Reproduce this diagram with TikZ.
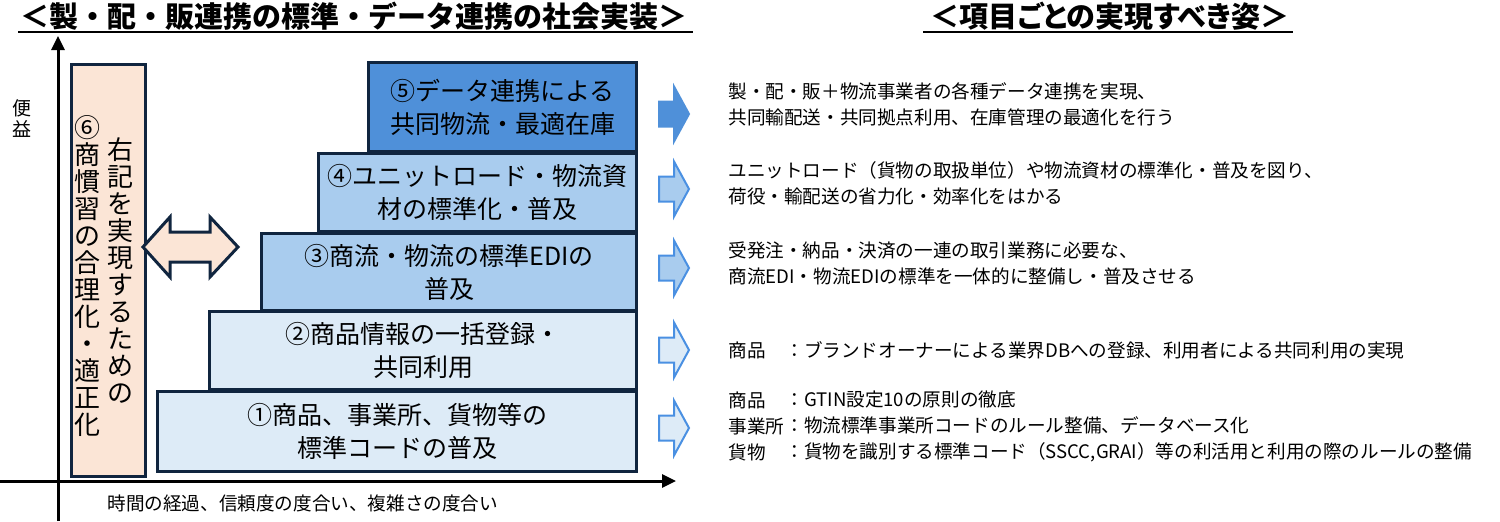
\documentclass[tikz,border=0pt]{standalone}
\usepackage{fontspec}
\setmainfont{Noto Sans CJK JP}
\newfontfamily\jpprop{Noto Sans CJK JP}[RawFeature=+palt]
\usetikzlibrary{arrows.meta}
\definecolor{navy}{HTML}{10253F}
\definecolor{dblue}{HTML}{4F90D9}
\definecolor{mblue}{HTML}{A9CCEE}
\definecolor{lblue}{HTML}{DDEBF7}
\definecolor{pink}{HTML}{FBE5D6}
\definecolor{ablue}{HTML}{4A90E2}
\tikzset{
  titletext/.style={font=\bfseries\fontsize{14.5}{15}\selectfont, inner sep=0},
  uline/.style={line width=1pt},
  axis/.style={line width=1.5pt, -{Triangle[length=7pt,width=6.5pt]}},
  stepbox/.style={draw=navy, line width=1.5pt, rectangle, anchor=north west, inner sep=0,
     align=center, font=\fontsize{12.5}{16.5}\selectfont},
  vcol/.style={align=center, inner sep=0, anchor=north, font=\fontsize{13}{13.5}\selectfont},
  desc/.style={align=left, inner sep=0, anchor=west, font=\fontsize{9.3}{13}\selectfont},
  barrow/.style={line width=1pt, line join=miter},
}
\newcommand\blockarrow[3]{%
  \draw[barrow, fill=#2, draw=#3] (659,#1-12.5) -- (674,#1-12.5) -- (674,#1-27.5) -- (689,#1)
     -- (674,#1+27.5) -- (674,#1+12.5) -- (659,#1+12.5) -- cycle;}
\begin{document}
\begin{tikzpicture}[x=0.5pt,y=-0.5pt]
\useasboundingbox (0,0) rectangle (1500,521);
% titles
\node[titletext] (t1) at (354,16) {＜製・配・販連携の標準・データ連携の社会実装＞};
\coordinate (u1a) at (18,32); \coordinate (u1b) at (693,32);
\draw[uline] (u1a) -- (u1b);
\node[titletext] (t2) at (1110,16) {\jpprop\bfseries ＜項目ごとの実現すべき姿＞};
\coordinate (u2a) at (923,32); \coordinate (u2b) at (1293,32);
\draw[uline] (u2a) -- (u2b);
% axes
\coordinate (yb) at (58,521); \coordinate (yt) at (58,36);
\coordinate (xl) at (0,481); \coordinate (xr) at (676,481);
\draw[axis] (yb) -- (yt);
\draw[axis] (xl) -- (xr);
\node[align=center, inner sep=0, font=\fontsize{9.5}{10.5}\selectfont] (yl) at (22,119) {便\\益};
\node[inner sep=0, anchor=west, font=\fontsize{9.3}{10.5}\selectfont] (xlab) at (107,503) {時間の経過、信頼度の度合い、複雑さの度合い};
% box 6
\node[draw=navy, line width=1.5pt, fill=pink, anchor=north west, minimum width=37pt, minimum height=206pt, inner sep=0] (b6) at (70,63) {};
\node[vcol] (c6a) at (87,115) {⑥\\商\\慣\\習\\の\\合\\理\\化\\・\\適\\正\\化};
\node[vcol] (c6b) at (120,137) {右\\記\\を\\実\\現\\す\\る\\た\\め\\の};
% double arrow
\draw[draw=navy, line width=1.5pt, fill=pink, line join=miter]
  (143,247) -- (170,217) -- (170,232) -- (210,232) -- (210,217) -- (238,247)
  -- (210,277) -- (210,262) -- (170,262) -- (170,277) -- cycle;
% step boxes
\node[stepbox, fill=lblue, minimum width=239.5pt, minimum height=40pt] (b1) at (156,390)
  {①商品、事業所、貨物等の\\標準コードの普及};
\node[stepbox, fill=lblue, minimum width=213.5pt, minimum height=39pt] (b2) at (208,310)
  {②商品情報の一括登録・\\共同利用};
\node[stepbox, fill=mblue, minimum width=187.5pt, minimum height=38.5pt] (b3) at (260,232)
  {③商流・物流の標準EDIの\\普及};
\node[stepbox, fill=mblue, minimum width=159pt, minimum height=39pt] (b4) at (317,152)
  {④ユニットロード・物流資\\材の標準化・普及};
\node[stepbox, fill=dblue, minimum width=134pt, minimum height=44.5pt] (b5) at (367,61)
  {⑤データ連携による\\共同物流・最適在庫};
% right arrows
\blockarrow{114}{dblue}{dblue}
\blockarrow{189}{mblue}{ablue}
\blockarrow{268}{mblue}{ablue}
\blockarrow{350}{lblue}{ablue}
\blockarrow{428}{lblue}{ablue}
% descriptions
\node[desc] (d5) at (728,104.5) {製・配・販＋物流事業者の各種データ連携を実現、\\共同輸配送・共同拠点利用、在庫管理の最適化を行う};
\node[desc] (d4) at (728,183.5) {ユニットロード（貨物の取扱単位）や物流資材の標準化・普及を図り、\\荷役・輸配送の省力化・効率化をはかる};
\node[desc] (d3) at (728,263.5) {受発注・納品・決済の一連の取引業務に必要な、\\商流EDI・物流EDIの標準を一体的に整備し・普及させる};
\node[desc] (d2l) at (728,350) {商品};
\node[desc] (d2) at (785,350) {：ブランドオーナーによる業界DBへの登録、利用者による共同利用の実現};
\node[desc] (d1l) at (728,426) {商品\\事業所\\貨物};
\node[desc] (d1) at (785,426) {：GTIN設定10の原則の徹底\\：物流標準事業所コードのルール整備、データベース化\\：貨物を識別する標準コード（SSCC,GRAI）等の利活用と利用の際のルールの整備};
\end{tikzpicture}
\end{document}
